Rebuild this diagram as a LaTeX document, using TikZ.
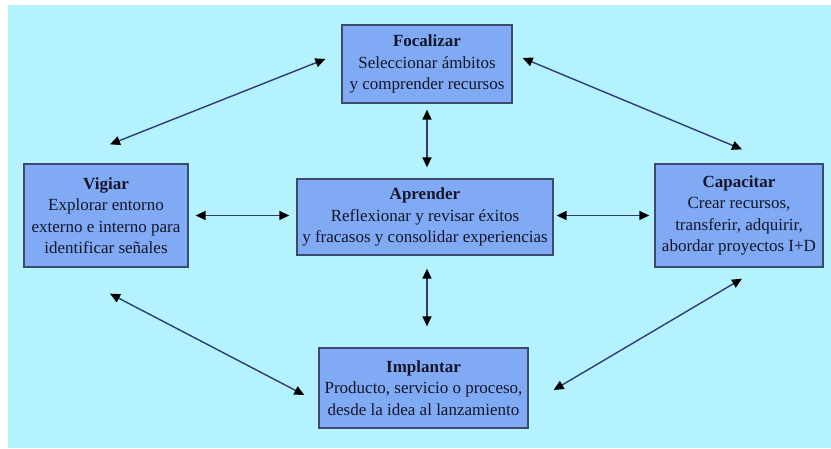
\documentclass[tikz,border=0pt]{standalone}
\usepackage{fontspec}
\setmainfont{Liberation Serif}
\usetikzlibrary{arrows.meta}
\definecolor{bgcyan}{HTML}{B4F2FD}
\definecolor{boxfill}{HTML}{80AAF3}
\definecolor{boxline}{HTML}{3C4A6E}
\definecolor{arrowline}{HTML}{2E3C78}
\definecolor{txt}{HTML}{15152A}
\tikzset{
  stagebox/.style={draw=boxline, line width=1.3pt, fill=boxfill, text=txt,
    align=center, inner sep=0pt, font=\fontsize{17}{21.5}\selectfont},
  link/.style={draw=arrowline, line width=1.4pt,
    {Triangle[length=10pt,width=9pt,fill=black,color=black]}-{Triangle[length=10pt,width=9pt,fill=black,color=black]}}
}
\begin{document}
\begin{tikzpicture}[x=1pt,y=-1pt]
  % canvas and backdrop
  \useasboundingbox (0,0) rectangle (831,448);
  \fill[white] (0,0) rectangle (831,448);
  \fill[bgcyan] (8,5) rectangle (831,448);

  % stage boxes
  \node[stagebox, minimum width=170pt, minimum height=78pt] (foc) at (427,64)
    {\textbf{Focalizar}\\Seleccionar ámbitos\\y comprender recursos};
  \node[stagebox, minimum width=164pt, minimum height=103pt] (vig) at (106,215.5)
    {\textbf{Vigiar}\\Explorar entorno\\externo e interno para\\identificar señales};
  \node[stagebox, minimum width=256pt, minimum height=76pt] (apr) at (425,217)
    {\textbf{Aprender}\\Reflexionar y revisar éxitos\\y fracasos y consolidar experiencias};
  \node[stagebox, minimum width=168pt, minimum height=103pt] (cap) at (739,215.5)
    {\textbf{Capacitar}\\Crear recursos,\\transferir, adquirir,\\abordar proyectos I+D};
  \node[stagebox, minimum width=209pt, minimum height=80pt] (imp) at (423.5,388)
    {\textbf{Implantar}\\Producto, servicio o proceso,\\desde la idea al lanzamiento};

  % loose ends of the diagonal links
  \coordinate (vigN) at ([shift={(4,-19)}]vig.north);
  \coordinate (focW) at ([shift={(-16,-5)}]foc.west);
  \coordinate (focE) at ([shift={(10,-6)}]foc.east);
  \coordinate (capN) at ([shift={(3,-14)}]cap.north);
  \coordinate (vigS) at ([shift={(4,26)}]vig.south);
  \coordinate (impW) at ([shift={(-14,7)}]imp.west);
  \coordinate (capS) at ([shift={(3,11)}]cap.south);
  \coordinate (impE) at ([shift={(25,2)}]imp.east);

  % links
  \draw[link] (vigN) -- (focW);
  \draw[link] (focE) -- (capN);
  \draw[link] (vigS) -- (impW);
  \draw[link] (capS) -- (impE);
  \draw[link, shorten <=7pt, shorten >=7pt] (vig.east) -- (vig.east -| apr.west);
  \draw[link, shorten <=3pt, shorten >=5pt] (apr.east |- cap.west) -- (cap.west);
  \draw[link, shorten <=6pt, shorten >=11pt] (foc.south) -- (foc.south |- apr.north);
  \draw[link, shorten <=13pt, shorten >=21pt] (apr.south -| foc.south) -- (imp.north -| foc.south);
\end{tikzpicture}
\end{document}
